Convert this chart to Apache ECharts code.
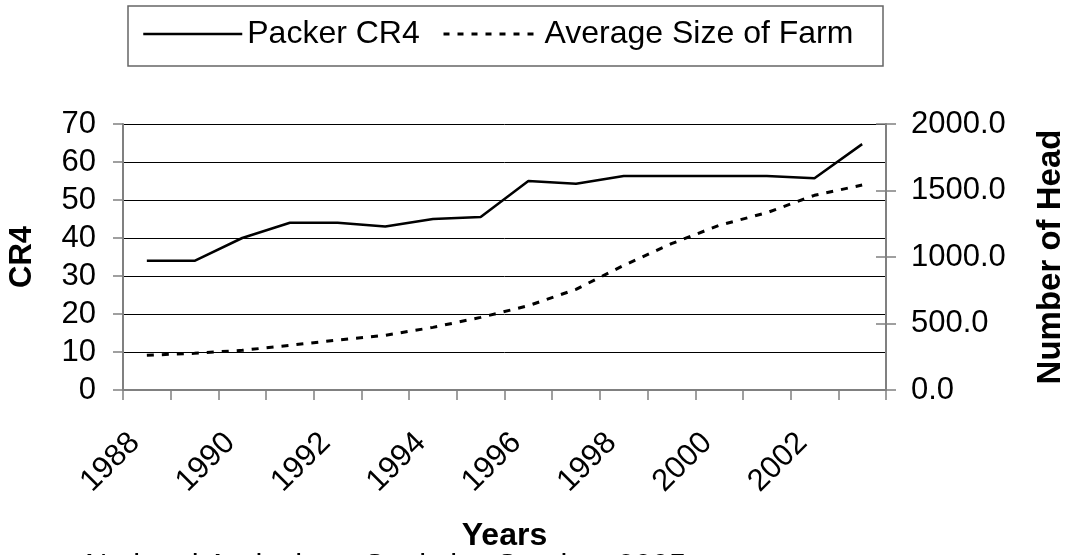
<!DOCTYPE html>
<html>
<head>
<meta charset="utf-8">
<style>
  html, body { margin: 0; padding: 0; background: #ffffff; }
  #chart { width: 1066px; height: 555px; }
</style>
<script src="https://cdn.jsdelivr.net/npm/echarts@6/dist/echarts.min.js"></script>
</head>
<body>
<div id="chart"></div>
<script>
// Hog packing concentration vs. average farm size, 1988-2003
const years = ['1988', '1989', '1990', '1991', '1992', '1993', '1994', '1995',
               '1996', '1997', '1998', '1999', '2000', '2001', '2002', '2003'];
const packerCR4 = [34, 34, 40, 44, 44, 43, 45, 45.5, 55, 54.3, 56.3, 56.3, 56.3, 56.3, 55.7, 64.7];
const avgFarmSize = [261, 276, 298, 336, 376, 411, 471, 546, 634, 757, 937, 1100, 1238, 1333, 1464, 1541];
const cr4Ticks = { min: 0, max: 70, interval: 10 };
const headTicks = { min: 0, max: 2000, interval: 500 };
const sourceNote = 'National Agriculture Statistics Service, 2005';

const FONT = '"Liberation Sans", Arial, sans-serif';
const AXIS_GREY = '#808080';

const chart = echarts.init(document.getElementById('chart'), null, { renderer: 'canvas' });

const legendBase = {
  top: 18, padding: 0, itemHeight: 14, itemGap: 0,
  selectedMode: false,
  itemStyle: { opacity: 0, borderWidth: 0 },
  textStyle: { fontFamily: FONT, fontSize: 32, color: '#000' }
};

chart.setOption({
  backgroundColor: '#ffffff',
  animation: false,
  textStyle: { fontFamily: FONT, color: '#000' },
  legend: [
    Object.assign({}, legendBase, {
      data: ['Packer CR4'], left: 142, itemWidth: 99,
      lineStyle: { width: 2.5, type: 'solid' }
    }),
    Object.assign({}, legendBase, {
      data: ['Average Size of Farm'], left: 442, itemWidth: 96,
      lineStyle: { width: 3, type: [6, 8] }
    })
  ],
  graphic: [
    {
      type: 'rect',
      shape: { x: 128, y: 6, width: 755, height: 60 },
      style: { fill: 'none', stroke: '#666', lineWidth: 1.5 },
      silent: true
    },
    {
      type: 'text',
      x: 85, y: 567,
      style: { text: sourceNote, font: '31px ' + FONT, fill: '#000', verticalAlign: 'middle' },
      silent: true
    }
  ],
  grid: { left: 123, right: 180, top: 124, bottom: 165, outerBoundsMode: 'none', containLabel: false },
  xAxis: [
    {
      type: 'category',
      data: years,
      boundaryGap: true,
      name: 'Years',
      nameLocation: 'middle',
      nameGap: 130,
      nameTextStyle: { fontFamily: FONT, fontSize: 32, fontWeight: 'bold', color: '#000' },
      axisLine: { lineStyle: { color: AXIS_GREY, width: 2 } },
      axisTick: { show: true, interval: 0, length: 10, lineStyle: { color: AXIS_GREY, width: 1.5 } },
      axisLabel: {
        interval: 1, rotate: 45, margin: 36,
        padding: [0, 17, 0, 0],
        fontFamily: FONT, fontSize: 31, color: '#000'
      },
      splitLine: { show: false }
    },
    {
      // top border of the plot area
      type: 'category',
      data: years,
      position: 'top',
      axisLine: { lineStyle: { color: AXIS_GREY, width: 2 } },
      axisTick: { show: false },
      axisLabel: { show: false },
      splitLine: { show: false }
    }
  ],
  yAxis: [
    {
      type: 'value',
      position: 'left',
      min: cr4Ticks.min, max: cr4Ticks.max, interval: cr4Ticks.interval,
      name: 'CR4',
      nameLocation: 'middle',
      nameRotate: 90,
      nameGap: 85,
      nameTextStyle: { fontFamily: FONT, fontSize: 31, fontWeight: 'bold', color: '#000' },
      axisLine: { show: true, lineStyle: { color: AXIS_GREY, width: 2 } },
      axisTick: { show: true, length: 10, lineStyle: { color: AXIS_GREY, width: 1.5 } },
      axisLabel: { margin: 27, fontFamily: FONT, fontSize: 31, color: '#000' },
      splitLine: { show: true, lineStyle: { color: '#000', width: 1 } }
    },
    {
      type: 'value',
      position: 'right',
      min: headTicks.min, max: headTicks.max, interval: headTicks.interval,
      name: 'Number of Head',
      nameLocation: 'middle',
      nameRotate: 90,
      nameGap: 148,
      nameTextStyle: { fontFamily: FONT, fontSize: 33, fontWeight: 'bold', color: '#000' },
      axisLine: { show: true, lineStyle: { color: AXIS_GREY, width: 2 } },
      axisTick: { show: true, length: 10, lineStyle: { color: AXIS_GREY, width: 1.5 } },
      axisLabel: {
        margin: 25, fontFamily: FONT, fontSize: 31, color: '#000',
        formatter: v => v.toFixed(1)
      },
      splitLine: { show: false }
    },
    {
      // inner half of the crossing ticks on the right axis
      type: 'value',
      position: 'right',
      min: headTicks.min, max: headTicks.max, interval: headTicks.interval,
      axisLine: { show: false },
      axisTick: { show: true, inside: true, length: 10, lineStyle: { color: AXIS_GREY, width: 1.5 } },
      axisLabel: { show: false },
      splitLine: { show: false }
    }
  ],
  series: [
    {
      name: 'Packer CR4',
      type: 'line',
      xAxisIndex: 0,
      yAxisIndex: 0,
      data: packerCR4,
      symbol: 'none',
      lineStyle: { color: '#000', width: 2.5, type: 'solid' },
      itemStyle: { color: '#000' },
      z: 3
    },
    {
      name: 'Average Size of Farm',
      type: 'line',
      xAxisIndex: 0,
      yAxisIndex: 1,
      data: avgFarmSize,
      symbol: 'none',
      lineStyle: { color: '#000', width: 3, type: [7, 8] },
      itemStyle: { color: '#000' },
      z: 3
    }
  ]
});
</script>
</body>
</html>
